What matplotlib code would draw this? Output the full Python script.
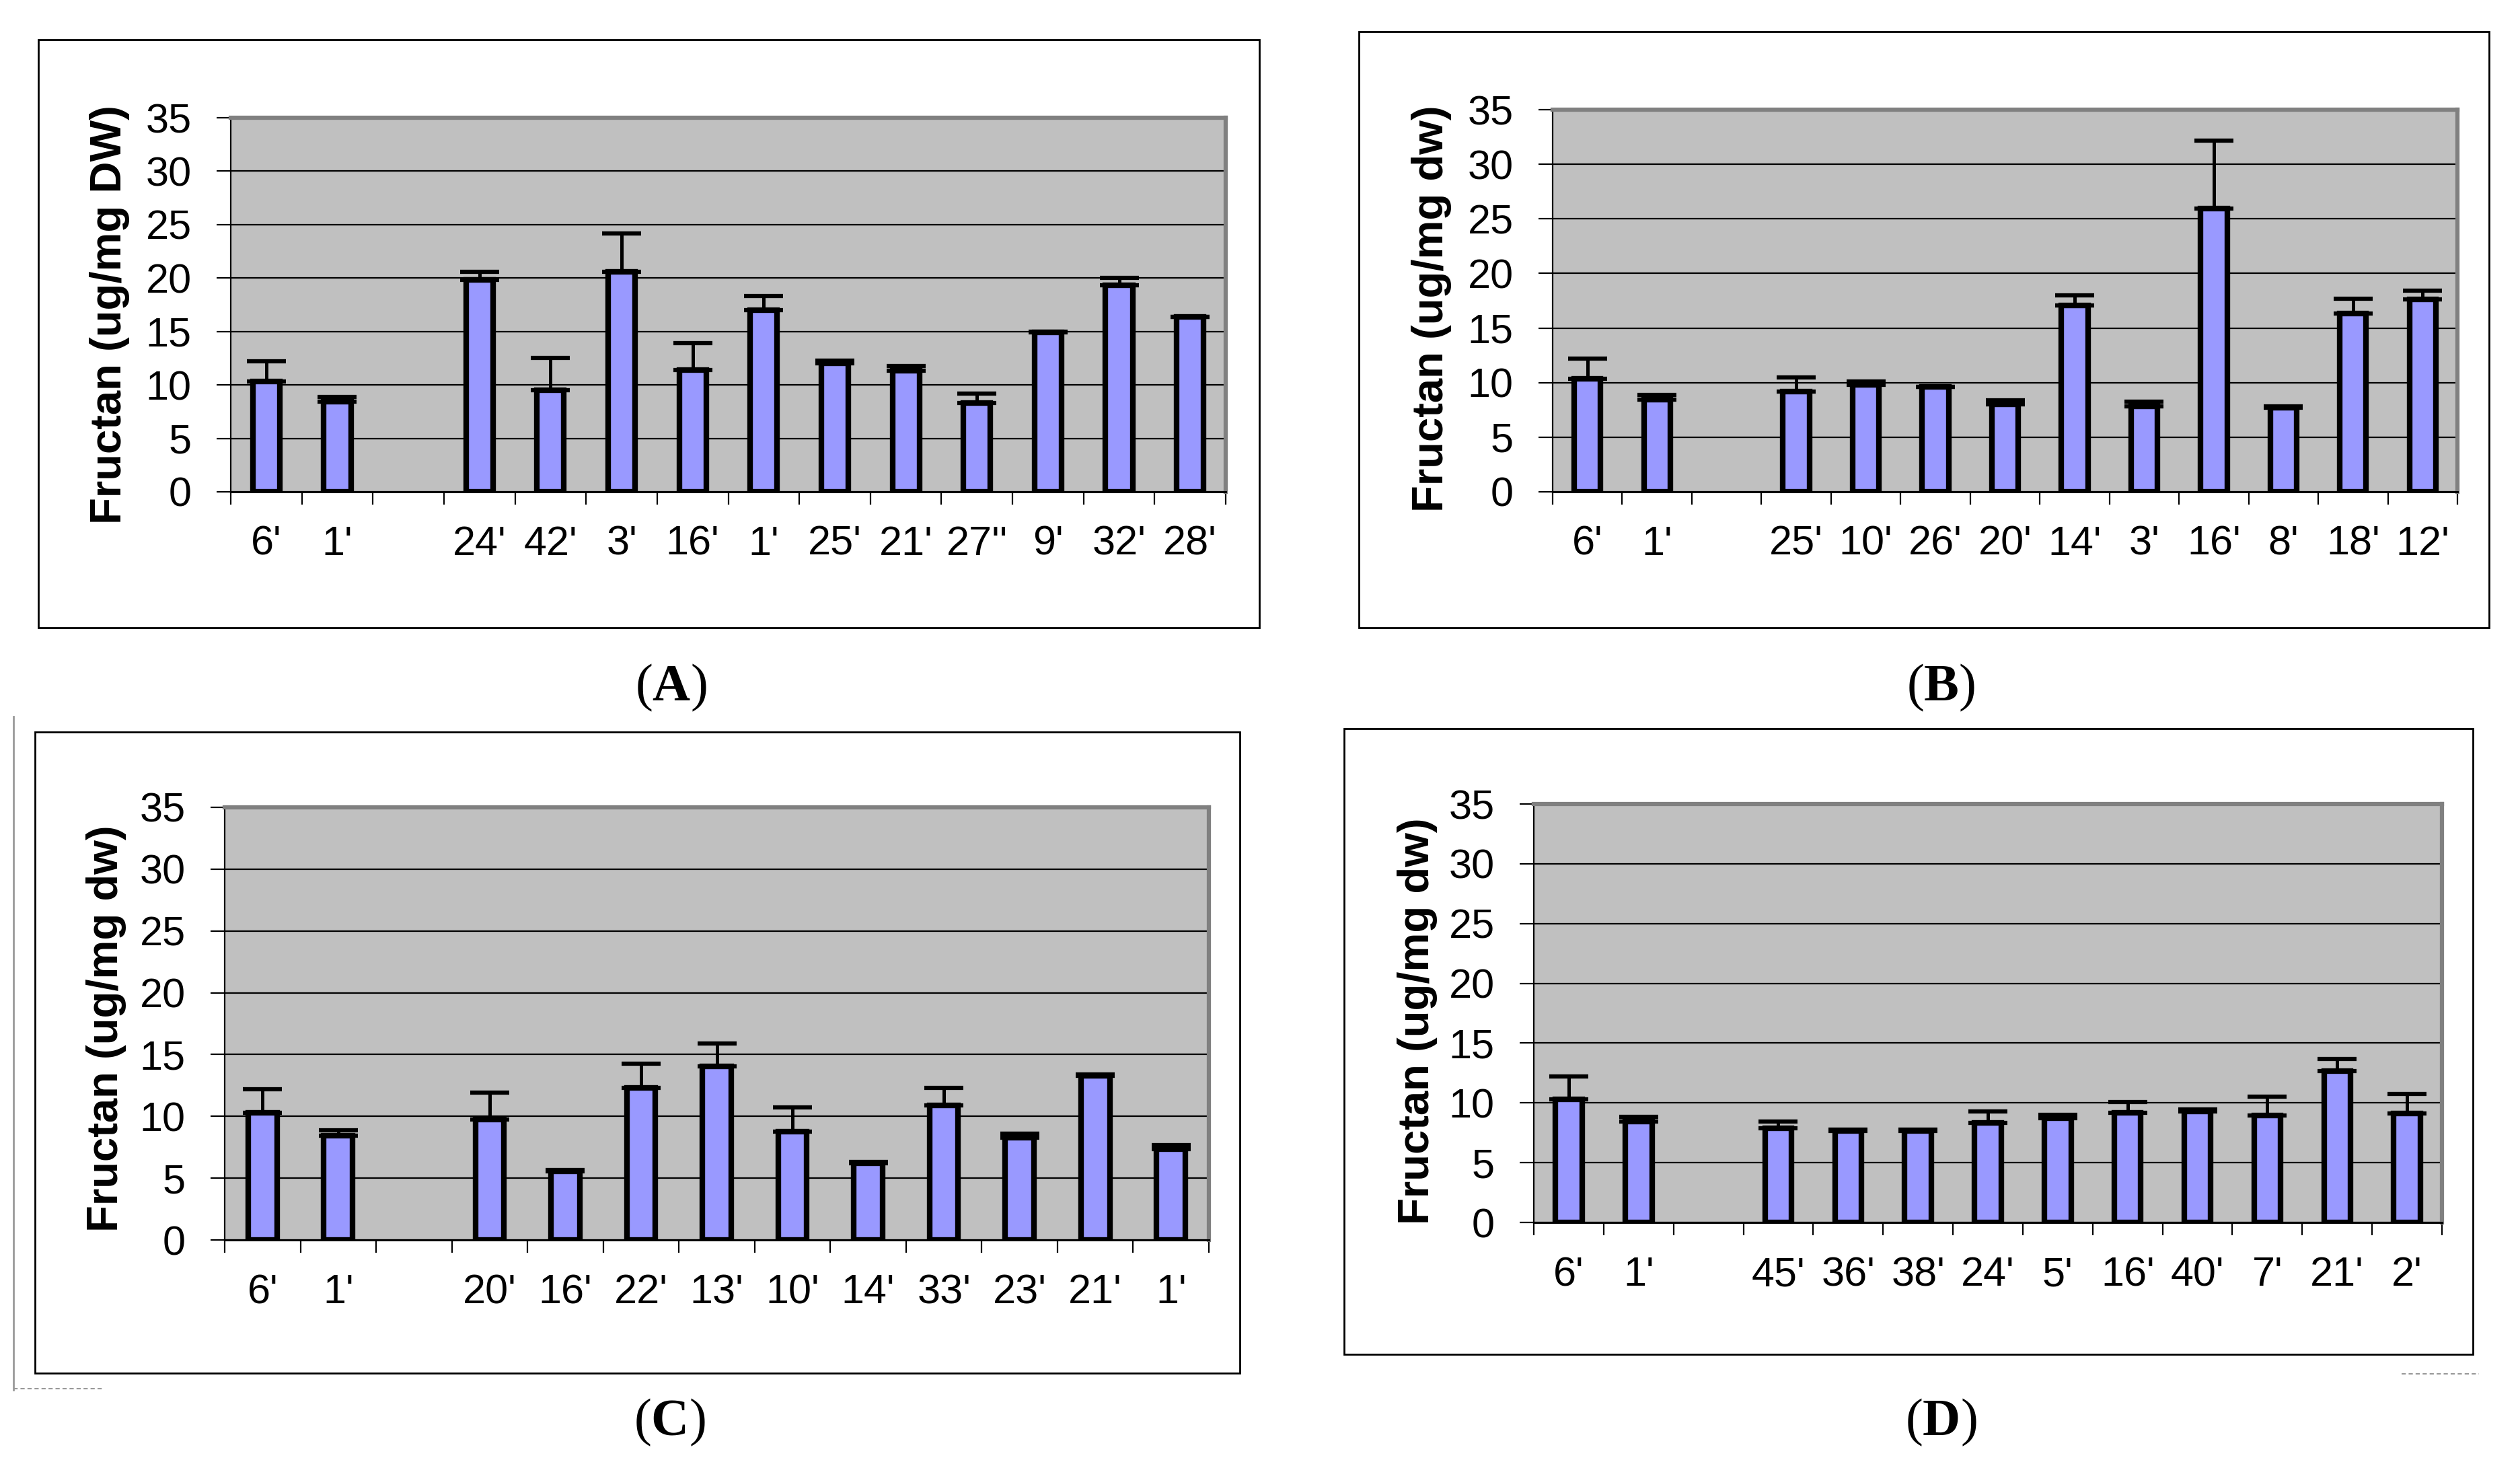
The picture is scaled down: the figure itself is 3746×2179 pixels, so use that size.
import matplotlib
import matplotlib.pyplot as plt
from matplotlib.lines import Line2D
from matplotlib.patches import Rectangle
matplotlib.use('Agg')

W, H = 3746, 2179

plt.rcParams['font.family'] = ['Liberation Sans', 'DejaVu Sans']
plt.rcParams['mathtext.fontset'] = 'custom'
plt.rcParams['mathtext.rm'] = 'Liberation Serif'
plt.rcParams['mathtext.bf'] = 'Liberation Serif:bold'

# data (None = empty slot between controls and lines)
cats_a = ["6'", "1'", "", "24'", "42'", "3'", "16'", "1'", "25'", "21'", "27''", "9'", "32'", "28'"]
vals_a = [10.35, 8.45, None, 19.8, 9.5, 20.6, 11.4, 17.0, 12.0, 11.3, 8.3, 14.9, 19.3, 16.35]
errs_a = [1.85, 0.45, None, 0.8, 3.0, 3.6, 2.5, 1.3, 0.3, 0.45, 0.9, 0.1, 0.7, 0.0]

cats_b = ["6'", "1'", "", "25'", "10'", "26'", "20'", "14'", "3'", "16'", "8'", "18'", "12'"]
vals_b = [10.33, 8.45, None, 9.17, 9.8, 9.6, 8.0, 17.07, 7.85, 25.95, 7.7, 16.36, 17.65]
errs_b = [1.9, 0.45, None, 1.33, 0.3, 0.0, 0.4, 0.93, 0.4, 6.2, 0.1, 1.34, 0.75]

cats_c = ["6'", "1'", "", "20'", "16'", "22'", "13'", "10'", "14'", "33'", "23'", "21'", "1'"]
vals_c = [10.3, 8.45, None, 9.72, 5.55, 12.28, 14.05, 8.78, 6.22, 10.87, 8.3, 13.27, 7.36]
errs_c = [1.9, 0.4, None, 2.18, 0.12, 1.97, 1.85, 1.92, 0.08, 1.41, 0.3, 0.13, 0.34]

cats_d = ["6'", "1'", "", "45'", "36'", "38'", "24'", "5'", "16'", "40'", "7'", "21'", "2'"]
vals_d = [10.3, 8.45, None, 7.86, 7.65, 7.65, 8.3, 8.75, 9.2, 9.27, 8.95, 12.68, 9.1]
errs_d = [1.9, 0.4, None, 0.56, 0.09, 0.09, 1.0, 0.28, 0.85, 0.17, 1.55, 0.97, 1.63]

y_ticks = [0, 5, 10, 15, 20, 25, 30, 35]
label_dw = 'Fructan (ug/mg DW)'
label_dw_small = 'Fructan (ug/mg dw)'


def fx(x):
    return x / W


def fy(y):
    return 1 - y / H


def add_frame(fig, x0, y0, x1, y1):
    """Black box around one chart (pixel coords, y down)."""
    fig.add_artist(Rectangle((fx(x0), fy(y1)), fx(x1) - fx(x0), fy(y0) - fy(y1),
                             transform=fig.transFigure, fill=False,
                             edgecolor='black', linewidth=2))


def draw_panel(fig, box, cats, vals, errs, ylabel, ylabel_xy, tag, tag_xy):
    """
    Excel style bar chart with upper error bars.
    :param box: plot area in pixels (x0, y0, x1, y1), y down
    """
    x0, y0, x1, y1 = box
    ax = fig.add_axes([fx(x0), fy(y1), fx(x1) - fx(x0), fy(y0) - fy(y1)])
    ax.set_facecolor('#C0C0C0')
    ax.set_axisbelow(True)

    n = len(cats)
    pos = [i for i, v in enumerate(vals) if v is not None]
    heights = [vals[i] for i in pos]
    ups = [errs[i] for i in pos]

    ax.bar(pos, heights, width=0.38, color='#9999FF', edgecolor='black',
           linewidth=6, zorder=3)
    ax.errorbar(pos, heights, yerr=[[0] * len(ups), ups], fmt='none',
                ecolor='black', elinewidth=3.6, capsize=21, capthick=4.5, zorder=4)

    ax.set_xlim(-0.5, n - 0.5)
    ax.set_ylim(0, 35)
    ax.set_yticks(y_ticks)
    ax.grid(axis='y', color='black', linewidth=1.6)

    # boundaries get tick marks, centres get the labels
    ax.set_xticks([i - 0.5 for i in range(n + 1)])
    ax.set_xticklabels([])
    ax.set_xticks(range(n), cats, minor=True)
    ax.tick_params(axis='x', which='major', direction='out', length=14, width=1.6)
    ax.tick_params(axis='x', which='minor', length=0, pad=36, labelsize=44)
    ax.tick_params(axis='y', direction='out', length=15, width=1.6, pad=27, labelsize=44)

    for side in ['top', 'right']:
        ax.spines[side].set_color('#808080')
        ax.spines[side].set_linewidth(4.5)
    ax.spines['left'].set_color('black')
    ax.spines['left'].set_linewidth(1.6)
    ax.spines['bottom'].set_color('black')
    ax.spines['bottom'].set_linewidth(2.2)

    fig.text(fx(ylabel_xy[0]), fy(ylabel_xy[1]), ylabel, rotation=90,
             ha='center', va='center', fontsize=47, fontweight='bold')
    fig.text(fx(tag_xy[0]), fy(tag_xy[1]), r'$(\mathbf{' + tag + '})$',
             ha='center', va='center', fontsize=56)
    return ax


fig = plt.figure(figsize=(W / 100, H / 100), dpi=100)

add_frame(fig, 57, 59, 1872, 933)
add_frame(fig, 2020, 47, 3700, 933)
add_frame(fig, 52, 1088, 1843, 2041)
add_frame(fig, 1998, 1083, 3676, 2013)

draw_panel(fig, (343, 175, 1822, 731), cats_a, vals_a, errs_a, label_dw,
           (163, 468), 'A', (997, 1022))
draw_panel(fig, (2308, 163, 3653, 731), cats_b, vals_b, errs_b, label_dw_small,
           (2128, 459), 'B', (2885, 1022))
draw_panel(fig, (334, 1200, 1797, 1843), cats_c, vals_c, errs_c, label_dw_small,
           (158, 1529), 'C', (995, 2114))
draw_panel(fig, (2280, 1195, 3630, 1817), cats_d, vals_d, errs_d, label_dw_small,
           (2107, 1518), 'D', (2885, 2114))

# leftover page marks from the source layout
fig.add_artist(Line2D([fx(20), fx(20)], [fy(1065), fy(2066)], transform=fig.transFigure,
                      color='#999999', linewidth=2))
fig.add_artist(Line2D([fx(20), fx(155)], [fy(2064), fy(2064)], transform=fig.transFigure,
                      color='#999999', linewidth=1.5, linestyle=(0, (3, 2))))
fig.add_artist(Line2D([fx(3570), fx(3685)], [fy(2042), fy(2042)], transform=fig.transFigure,
                      color='#999999', linewidth=1.5, linestyle=(0, (3, 2))))

fig.savefig('out.png', dpi=100)
